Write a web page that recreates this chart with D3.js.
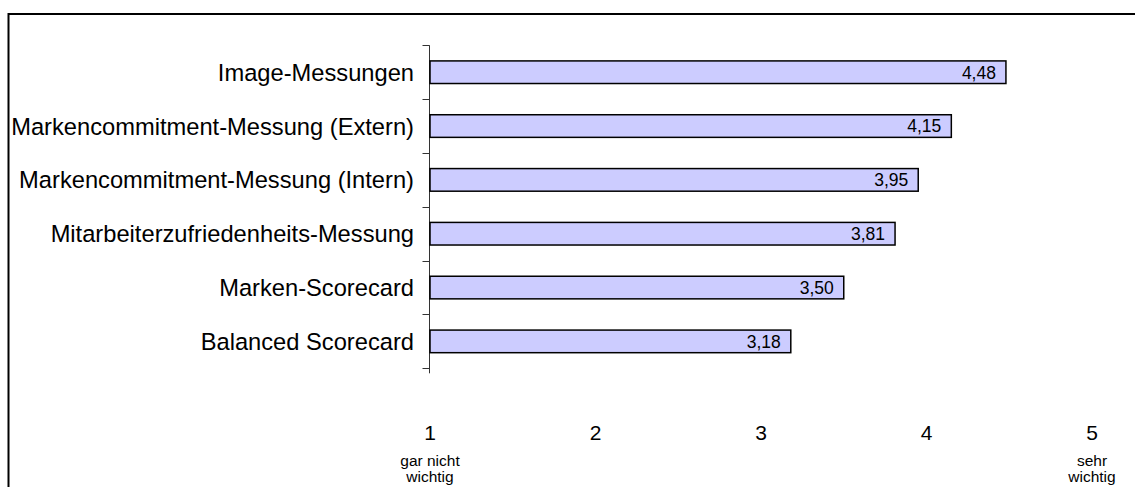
<!DOCTYPE html>
<html>
<head>
<meta charset="utf-8">
<script src="https://cdn.jsdelivr.net/npm/d3@7"></script>
<style>
  html, body { margin: 0; padding: 0; background: #fff; }
  svg { display: block; }
  text { font-family: "Liberation Sans", Arial, sans-serif; fill: #000; }
</style>
</head>
<body>
<svg id="chart" width="1135" height="487"></svg>
<script>
const categories = [
  "Image-Messungen",
  "Markencommitment-Messung (Extern)",
  "Markencommitment-Messung (Intern)",
  "Mitarbeiterzufriedenheits-Messung",
  "Marken-Scorecard",
  "Balanced Scorecard"
];
const values = [4.48, 4.15, 3.95, 3.81, 3.50, 3.18];
const xTicks = [1, 2, 3, 4, 5];
const lowLabel = ["gar nicht", "wichtig"];
const highLabel = ["sehr", "wichtig"];

const svg = d3.select("#chart");
const W = 1135, H = 487;

// outer frame
svg.append("rect")
  .attr("x", 8.5).attr("y", 14)
  .attr("width", W + 20).attr("height", H + 20)
  .attr("fill", "none").attr("stroke", "#000").attr("stroke-width", 2);

const x = d3.scaleLinear().domain([1, 5]).range([430, 1092]);
const y = d3.scaleBand().domain(categories).range([45.3, 368.3])
  .paddingInner(0.58).paddingOuter(0.29);

const step = y.step();

// y axis line and ticks at category boundaries
const axisG = svg.append("g");
axisG.append("line")
  .attr("x1", x(1) - 0.5).attr("x2", x(1) - 0.5)
  .attr("y1", y.range()[0]).attr("y2", y.range()[1] + 5)
  .attr("stroke", "#333").attr("stroke-width", 1);
const bounds = d3.range(categories.length + 1).map(i => y.range()[0] + i * step);
axisG.selectAll("line.tick").data(bounds).join("line")
  .attr("class", "tick")
  .attr("x1", x(1) - 7.5).attr("x2", x(1) - 0.5)
  .attr("y1", d => Math.round(d) + 0.5).attr("y2", d => Math.round(d) + 0.5)
  .attr("stroke", "#333").attr("stroke-width", 1);

// bars
svg.selectAll("rect.bar").data(categories).join("rect")
  .attr("class", "bar")
  .attr("x", x(1))
  .attr("y", d => y(d))
  .attr("width", (d, i) => x(values[i]) - x(1))
  .attr("height", y.bandwidth())
  .attr("fill", "#CCCCFF")
  .attr("stroke", "#000")
  .attr("stroke-width", 1.5);

// value labels
svg.selectAll("text.val").data(categories).join("text")
  .attr("class", "val")
  .attr("x", (d, i) => x(values[i]) - 10)
  .attr("y", d => y(d) + y.bandwidth() / 2)
  .attr("dy", "0.36em")
  .attr("text-anchor", "end")
  .style("font-size", "17.5px")
  .text((d, i) => values[i].toFixed(2).replace(".", ","));

// category labels
svg.selectAll("text.cat").data(categories).join("text")
  .attr("class", "cat")
  .attr("x", 414)
  .attr("y", d => y(d) + y.bandwidth() / 2)
  .attr("dy", "0.36em")
  .attr("text-anchor", "end")
  .style("font-size", "23.7px")
  .text(d => d);

// x tick labels
svg.selectAll("text.xt").data(xTicks).join("text")
  .attr("class", "xt")
  .attr("x", d => x(d))
  .attr("y", 432)
  .attr("dy", "0.36em")
  .attr("text-anchor", "middle")
  .style("font-size", "21px")
  .text(d => d);

// scale end labels
function endLabel(lines, xv) {
  svg.append("g").selectAll("text").data(lines).join("text")
    .attr("x", x(xv))
    .attr("y", (d, i) => 460 + i * 16)
    .attr("dy", "0.36em")
    .attr("text-anchor", "middle")
    .style("font-size", "15.5px")
    .text(d => d);
}
endLabel(lowLabel, 1);
endLabel(highLabel, 5);
</script>
</body>
</html>
